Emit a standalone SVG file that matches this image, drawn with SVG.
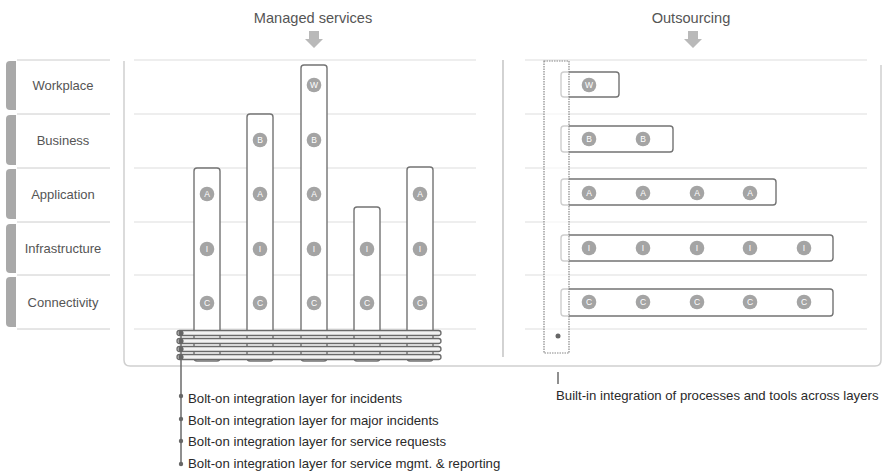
<svg xmlns="http://www.w3.org/2000/svg" width="883" height="474" viewBox="0 0 883 474">
<style>
text{font-family:"Liberation Sans",Arial,sans-serif;fill:#555}
.hdr{font-size:14.6px;text-anchor:middle}
.lbl{font-size:13px;text-anchor:middle}
.note{font-size:13.2px;fill:#2a2a2a}
.tab{fill:#a9a9a9}
.tabline{stroke:#ccc;stroke-width:1}
.row{stroke:#dedede;stroke-width:1.2}
.col{fill:#fff;stroke:#737373;stroke-width:1.4}
.dot{fill:#a4a4a4}
.ct{font-size:8.5px;fill:#fff;text-anchor:middle}
.bolt{fill:#f2f2f2;stroke:#6a6a6a;stroke-width:1.3}
.arr{fill:#b9b9b9}
</style>
<!-- headers -->
<g id="hdr-managed"><text class="hdr" x="313" y="23">Managed services</text><polygon class="arr" points="309,31 319,31 319,39 323,39 314,48 305,39 309,39"/></g>
<g id="hdr-outsourcing"><text class="hdr" x="691" y="23">Outsourcing</text><polygon class="arr" points="688,31 698,31 698,39 702,39 693,48 684,39 688,39"/></g>
<!-- layer labels -->
<g id="labels">
<line class="tabline" x1="17" y1="60" x2="110" y2="60"/>
<line class="tabline" x1="17" y1="114" x2="110" y2="114"/>
<line class="tabline" x1="17" y1="168" x2="110" y2="168"/>
<line class="tabline" x1="17" y1="222" x2="110" y2="222"/>
<line class="tabline" x1="17" y1="275" x2="110" y2="275"/>
<line class="tabline" x1="17" y1="329" x2="110" y2="329"/>
<g id="lbl-workplace"><path class="tab" d="M16,61 V110 H10 Q6,110 6,106 V65 Q6,61 10,61 Z"/><text class="lbl" x="63" y="90">Workplace</text></g>
<g id="lbl-business"><path class="tab" d="M16,115 V165 H10 Q6,165 6,161 V119 Q6,115 10,115 Z"/><text class="lbl" x="63" y="145">Business</text></g>
<g id="lbl-application"><path class="tab" d="M16,169 V219 H10 Q6,219 6,215 V173 Q6,169 10,169 Z"/><text class="lbl" x="63" y="199">Application</text></g>
<g id="lbl-infrastructure"><path class="tab" d="M16,224 V273 H10 Q6,273 6,269 V228 Q6,224 10,224 Z"/><text class="lbl" x="63" y="253">Infrastructure</text></g>
<g id="lbl-connectivity"><path class="tab" d="M16,277 V327 H10 Q6,327 6,323 V281 Q6,277 10,277 Z"/><text class="lbl" x="63" y="307">Connectivity</text></g>
</g>
<!-- container -->
<g id="container">
<path d="M124,61 V360 Q124,366 130,366 H875 Q881,366 881,360 V65" fill="none" stroke="#cfcfcf" stroke-width="1.5"/>
<line x1="503" y1="60" x2="503" y2="357" stroke="#bbb" stroke-width="1.3"/>
<g id="rows-left">
<line class="row" x1="134" y1="60" x2="476" y2="60"/>
<line class="row" x1="134" y1="114" x2="476" y2="114"/>
<line class="row" x1="134" y1="168" x2="476" y2="168"/>
<line class="row" x1="134" y1="222" x2="476" y2="222"/>
<line class="row" x1="134" y1="275" x2="476" y2="275"/>
<line class="row" x1="134" y1="329" x2="476" y2="329"/>
</g>
<g id="rows-right">
<line class="row" x1="525" y1="60" x2="867" y2="60"/>
<line class="row" x1="525" y1="114" x2="867" y2="114"/>
<line class="row" x1="525" y1="168" x2="867" y2="168"/>
<line class="row" x1="525" y1="222" x2="867" y2="222"/>
<line class="row" x1="525" y1="275" x2="867" y2="275"/>
<line class="row" x1="525" y1="329" x2="867" y2="329"/>
</g>
</g>
<!-- managed services columns -->
<g id="col1"><rect class="col" x="194" y="168" width="26" height="193" rx="3"/>
<circle class="dot" cx="207" cy="194" r="7.3"/><text class="ct" x="207" y="197">A</text>
<circle class="dot" cx="207" cy="249" r="7.3"/><text class="ct" x="207" y="252">I</text>
<circle class="dot" cx="207" cy="303" r="7.3"/><text class="ct" x="207" y="306">C</text></g>
<g id="col2"><rect class="col" x="247" y="114" width="26" height="247" rx="3"/>
<circle class="dot" cx="260" cy="140" r="7.3"/><text class="ct" x="260" y="143">B</text>
<circle class="dot" cx="260" cy="194" r="7.3"/><text class="ct" x="260" y="197">A</text>
<circle class="dot" cx="260" cy="249" r="7.3"/><text class="ct" x="260" y="252">I</text>
<circle class="dot" cx="260" cy="303" r="7.3"/><text class="ct" x="260" y="306">C</text></g>
<g id="col3"><rect class="col" x="301" y="65" width="26" height="296" rx="3"/>
<circle class="dot" cx="314" cy="85" r="7.3"/><text class="ct" x="314" y="88">W</text>
<circle class="dot" cx="314" cy="140" r="7.3"/><text class="ct" x="314" y="143">B</text>
<circle class="dot" cx="314" cy="194" r="7.3"/><text class="ct" x="314" y="197">A</text>
<circle class="dot" cx="314" cy="249" r="7.3"/><text class="ct" x="314" y="252">I</text>
<circle class="dot" cx="314" cy="303" r="7.3"/><text class="ct" x="314" y="306">C</text></g>
<g id="col4"><rect class="col" x="354" y="207" width="26" height="154" rx="3"/>
<circle class="dot" cx="367" cy="249" r="7.3"/><text class="ct" x="367" y="252">I</text>
<circle class="dot" cx="367" cy="303" r="7.3"/><text class="ct" x="367" y="306">C</text></g>
<g id="col5"><rect class="col" x="407" y="167" width="26" height="194" rx="3"/>
<circle class="dot" cx="420" cy="194" r="7.3"/><text class="ct" x="420" y="197">A</text>
<circle class="dot" cx="420" cy="249" r="7.3"/><text class="ct" x="420" y="252">I</text>
<circle class="dot" cx="420" cy="303" r="7.3"/><text class="ct" x="420" y="306">C</text></g>
<!-- outsourcing bars -->
<g id="bar-w"><rect class="col" x="561" y="72" width="58" height="25" rx="3"/>
<circle class="dot" cx="589" cy="85" r="7.3"/><text class="ct" x="589" y="88">W</text></g>
<g id="bar-b"><rect class="col" x="561" y="126" width="112" height="26" rx="3"/>
<circle class="dot" cx="589" cy="139" r="7.3"/><text class="ct" x="589" y="142">B</text>
<circle class="dot" cx="643" cy="139" r="7.3"/><text class="ct" x="643" y="142">B</text></g>
<g id="bar-a"><rect class="col" x="561" y="179" width="215" height="26" rx="3"/>
<circle class="dot" cx="589" cy="193" r="7.3"/><text class="ct" x="589" y="196">A</text>
<circle class="dot" cx="643" cy="193" r="7.3"/><text class="ct" x="643" y="196">A</text>
<circle class="dot" cx="697" cy="193" r="7.3"/><text class="ct" x="697" y="196">A</text>
<circle class="dot" cx="750" cy="193" r="7.3"/><text class="ct" x="750" y="196">A</text></g>
<g id="bar-i"><rect class="col" x="561" y="235" width="272" height="26" rx="3"/>
<circle class="dot" cx="589" cy="248" r="7.3"/><text class="ct" x="589" y="251">I</text>
<circle class="dot" cx="643" cy="248" r="7.3"/><text class="ct" x="643" y="251">I</text>
<circle class="dot" cx="697" cy="248" r="7.3"/><text class="ct" x="697" y="251">I</text>
<circle class="dot" cx="750" cy="248" r="7.3"/><text class="ct" x="750" y="251">I</text>
<circle class="dot" cx="804" cy="248" r="7.3"/><text class="ct" x="804" y="251">I</text></g>
<g id="bar-c"><rect class="col" x="561" y="289" width="272" height="27" rx="3"/>
<circle class="dot" cx="589" cy="302" r="7.3"/><text class="ct" x="589" y="305">C</text>
<circle class="dot" cx="643" cy="302" r="7.3"/><text class="ct" x="643" y="305">C</text>
<circle class="dot" cx="697" cy="302" r="7.3"/><text class="ct" x="697" y="305">C</text>
<circle class="dot" cx="750" cy="302" r="7.3"/><text class="ct" x="750" y="305">C</text>
<circle class="dot" cx="804" cy="302" r="7.3"/><text class="ct" x="804" y="305">C</text></g>
<!-- built-in integration -->
<g id="builtin">
<rect x="544" y="61" width="25" height="292" fill="#fff" fill-opacity="0.65" stroke="#888" stroke-width="1.2" stroke-dasharray="1.5 1"/>
<circle cx="558" cy="336" r="2.5" fill="#666"/>
<text class="note" x="556" y="400">Built-in integration of processes and tools across layers</text>
</g>
<!-- bolt-on layers -->
<g id="bolton">
<rect class="bolt" x="177" y="330.5" width="264" height="5" rx="2.5"/>
<rect class="bolt" x="177" y="338.5" width="264" height="5" rx="2.5"/>
<rect class="bolt" x="177" y="346.5" width="264" height="5" rx="2.5"/>
<rect class="bolt" x="177" y="354.5" width="264" height="5" rx="2.5"/>
<text class="note" x="188" y="403">Bolt-on integration layer for incidents</text>
<text class="note" x="188" y="425">Bolt-on integration layer for major incidents</text>
<text class="note" x="188" y="446">Bolt-on integration layer for service requests</text>
<text class="note" x="188" y="468">Bolt-on integration layer for service mgmt. &amp; reporting</text>
</g>
<g id="connectors" fill="#666" stroke="#6a6a6a">
<line x1="181" y1="333" x2="181" y2="464" stroke-width="1.5"/>
<circle cx="181" cy="333" r="2.6" stroke="none"/>
<circle cx="181" cy="341" r="2.6" stroke="none"/>
<circle cx="181" cy="349" r="2.6" stroke="none"/>
<circle cx="181" cy="357" r="2.6" stroke="none"/>
<circle cx="181" cy="396" r="2.2" stroke="none"/>
<circle cx="181" cy="419" r="2.2" stroke="none"/>
<circle cx="181" cy="441" r="2.2" stroke="none"/>
<circle cx="181" cy="464" r="2.2" stroke="none"/>
<line x1="558" y1="372" x2="558" y2="384" stroke-width="1.5"/>
</g>
</svg>
